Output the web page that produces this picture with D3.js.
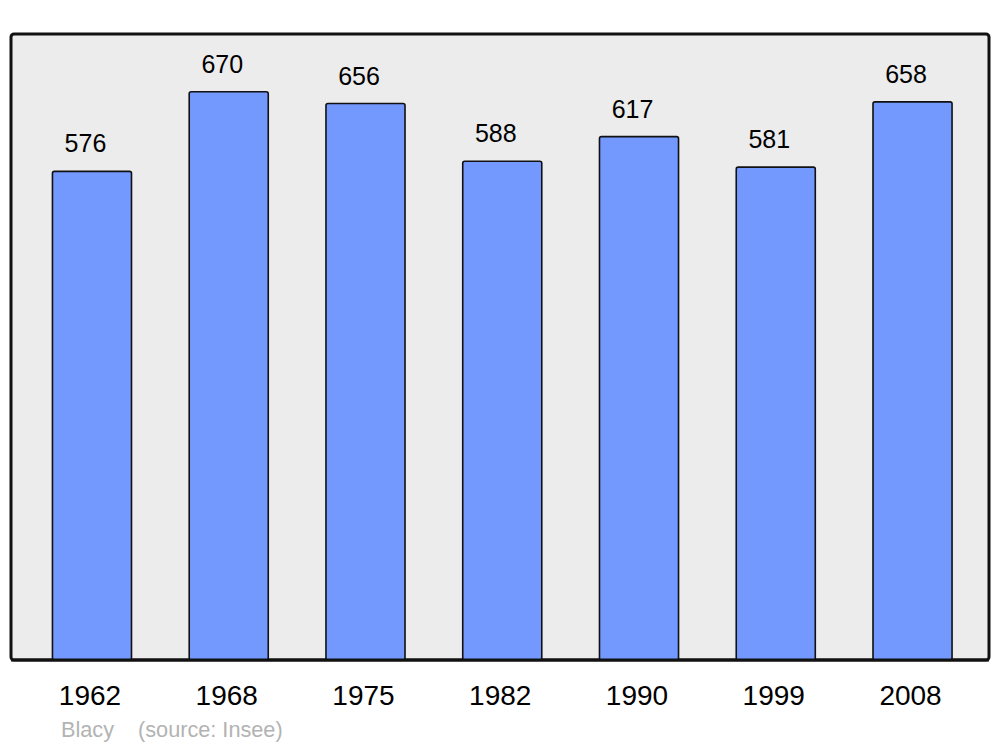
<!DOCTYPE html>
<html><head><meta charset="utf-8">
<script src="https://cdn.jsdelivr.net/npm/d3@7"></script>
<style>body{margin:0;background:#fff}svg{display:block}text{font-family:"Liberation Sans",Arial,sans-serif}</style>
</head><body>
<script>
const years = ["1962","1968","1975","1982","1990","1999","2008"];
const population = [576,670,656,588,617,581,658];
const commune = "Blacy";
const source = "(source: Insee)";

const W=1000,H=747;
const svg=d3.select("body").append("svg").attr("width",W).attr("height",H);
const frame={x:11,y:34,w:978,h:626};
svg.append("rect").attr("x",frame.x).attr("y",frame.y).attr("width",frame.w).attr("height",frame.h)
  .attr("rx",3).attr("fill","#ececec").attr("stroke","#111").attr("stroke-width",3);

const x=d3.scaleBand().domain(years).range([23.6,980.9]).paddingInner(0.422).paddingOuter(0.211);
const y=d3.scaleLinear().domain([0,738]).range([660,34]);

svg.selectAll("rect.bar").data(years).join("rect").attr("class","bar")
  .attr("x",d=>x(d)).attr("width",x.bandwidth())
  .attr("y",(d,i)=>y(population[i])).attr("height",(d,i)=>y(0)-y(population[i]))
  .attr("rx",2).attr("fill","#7399ff").attr("stroke","#111").attr("stroke-width",1.6);

svg.append("line").attr("x1",frame.x).attr("x2",frame.x+frame.w).attr("y1",660).attr("y2",660)
  .attr("stroke","#111").attr("stroke-width",3);

svg.selectAll("text.val").data(years).join("text").attr("class","val")
  .attr("x",d=>x(d)+x.bandwidth()/2-6.5).attr("y",(d,i)=>y(population[i])-19)
  .attr("text-anchor","middle").attr("font-size",25).attr("fill","#000")
  .text((d,i)=>population[i]);

const xAxis=d3.axisBottom(x).tickSize(0).tickPadding(0);
const g=svg.append("g").attr("transform","translate(-2,0)").call(xAxis);
g.select(".domain").remove();
g.selectAll("text").attr("y",705).attr("dy",null).attr("font-size",28).attr("fill","#000")
  .attr("font-family","Liberation Sans, Arial, sans-serif");

svg.append("text").attr("x",61).attr("y",737).attr("font-size",21.7).attr("fill","#b3b3b3").text(commune);
svg.append("text").attr("x",138).attr("y",737).attr("font-size",21.7).attr("fill","#b3b3b3").text(source);
</script>
</body></html>
